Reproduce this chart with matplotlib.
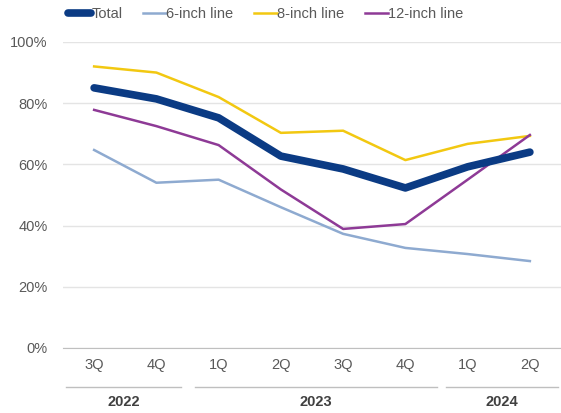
import matplotlib.pyplot as plt
import matplotlib.transforms as mtransforms

quarters = ['3Q', '4Q', '1Q', '2Q', '3Q', '4Q', '1Q', '2Q']
years = ['2022', '2023', '2024']
year_spans = [(-0.45, 1.39), (1.62, 5.5), (5.66, 7.45)]

total = [85.0, 81.4, 75.2, 62.7, 58.5, 52.3, 59.2, 64.0]
six_inch = [64.7, 54.0, 55.0, 46.0, 37.3, 32.7, 30.7, 28.4]
eight_inch = [92.0, 90.0, 82.0, 70.3, 71.0, 61.4, 66.7, 69.3]
twelve_inch = [77.8, 72.5, 66.3, 51.8, 38.9, 40.5, 55.0, 69.6]

grey = '#595959'
plt.rcParams['font.family'] = ['Liberation Sans', 'DejaVu Sans']

fig = plt.figure(figsize=(5.61, 4.13), dpi=100)
ax = fig.add_axes([0.1123, 0.1574, 0.8877, 0.741])

x = list(range(len(quarters)))
ax.plot(x, six_inch, color='#8eaad0', lw=1.8, label='6-inch line', zorder=3)
ax.plot(x, eight_inch, color='#f2c811', lw=1.8, label='8-inch line', zorder=3)
ax.plot(x, twelve_inch, color='#8e3a96', lw=1.8, label='12-inch line', zorder=3)
ax.plot(x, total, color='#0b3b84', lw=5.5, label='Total', zorder=4,
        solid_capstyle='round')

ax.set_xlim(-0.5, len(quarters) - 0.5)
ax.set_ylim(0, 100)
ax.set_yticks(range(0, 101, 20))
ax.set_yticklabels([f'{v}%' for v in range(0, 101, 20)])
ax.set_xticks(x)
ax.set_xticklabels(quarters)
ax.tick_params(axis='both', length=0, labelsize=10.5, colors=grey)
ax.tick_params(axis='x', pad=7)
ax.tick_params(axis='y', pad=11)
ax.grid(axis='y', color='#e4e4e4', lw=1)
ax.set_axisbelow(True)
for s in ['top', 'right', 'left']:
    ax.spines[s].set_visible(False)
ax.spines['bottom'].set_color('#bfbfbf')

# year grouping under the quarter labels
trans = mtransforms.blended_transform_factory(ax.transData, ax.transAxes)
for (a, b), yr in zip(year_spans, years):
    ax.plot([a, b], [-0.127, -0.127], color='#bfbfbf', lw=1,
            transform=trans, clip_on=False)
    ax.text((a + b) / 2, -0.176, yr, transform=trans, ha='center', va='center',
            fontsize=10.5, fontweight='bold', color='#404040')

handles, labels = ax.get_legend_handles_labels()
order = [3, 0, 1, 2]
fig.legend([handles[i] for i in order], [labels[i] for i in order],
           loc='center left', bbox_to_anchor=(0.098, 0.965), ncol=4, frameon=False,
           handlelength=1.6, handletextpad=0.0, columnspacing=1.4,
           fontsize=10.5, labelcolor=grey)

fig.savefig('out.png', dpi=100)
